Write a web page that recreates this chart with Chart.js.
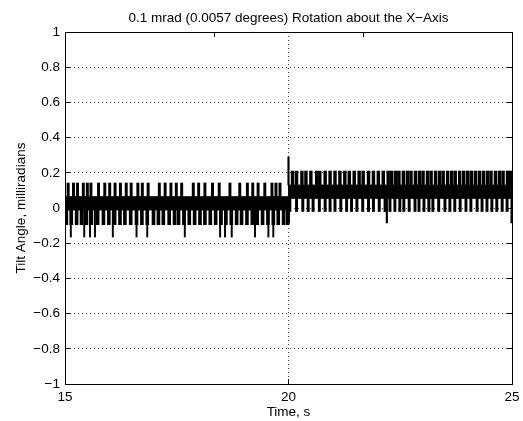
<!DOCTYPE html>
<html>
<head>
<meta charset="utf-8">
<script src="https://cdn.jsdelivr.net/npm/chart.js@4.4.1/dist/chart.umd.min.js"></script>
<style>
  body { margin: 0; background: #fff; }
</style>
</head>
<body>
<canvas id="tiltChart" width="523" height="421"></canvas>
<script>
// levels of the quantised signal, milliradians
const preLevels = [-0.165, -0.095, -0.011, 0.064, 0.142];    // deep dip, dip, band low, band high, spike top
const postLevels = [-0.085, -0.02, 0.055, 0.13, 0.21, 0.29]; // deep dip, dip, band low, band high, spike top, step spike

// edges of the dense (solid) part of the trace
const bandTime = [15, 20, 20, 25];
const bandHigh = [0.064, 0.064, 0.13, 0.13];
const bandLow = [-0.011, -0.011, 0.055, 0.055];

// spike times, s
const preUpTimes = [15.07, 15.19, 15.28, 15.41, 15.50, 15.58, 15.75, 15.89, 16.00, 16.12,
    16.24, 16.37, 16.48, 16.63, 16.73, 16.86, 17.11, 17.24, 17.37, 17.49, 17.61, 17.87,
    17.99, 18.13, 18.30, 18.45, 18.69, 18.91, 19.08, 19.20, 19.32, 19.47, 19.63, 19.72, 19.81];
const preDownTimes = [15.03, 15.14, 15.26, 15.37, 15.48, 15.59, 15.73, 15.86, 15.98, 16.11,
    16.23, 16.34, 16.47, 16.60, 16.72, 16.84, 16.98, 17.09, 17.20, 17.33, 17.45, 17.54,
    17.66, 17.78, 17.90, 18.02, 18.13, 18.25, 18.37, 18.49, 18.60, 18.72, 18.84, 18.95,
    19.07, 19.19, 19.30, 19.42, 19.54, 19.66, 19.77, 19.89, 19.98];
const preDipTimes = [15.13, 15.43, 15.56, 15.67, 16.07, 16.60, 16.84, 17.68, 18.47, 18.58,
    18.73, 19.25, 19.55, 19.66];
const stepTimes = [20.0];
const postUpTimes = [20.09, 20.18, 20.30, 20.39, 20.50, 20.63, 20.70, 20.82, 20.93, 21.04,
    21.15, 21.26, 21.36, 21.47, 21.58, 21.67, 21.79, 21.90, 22.01, 22.12, 22.23, 22.31,
    22.40, 22.47, 22.57, 22.66, 22.74, 22.84, 22.93, 23.01, 23.11, 23.19, 23.29, 23.38,
    23.46, 23.56, 23.65, 23.73, 23.83, 23.92, 24.01, 24.09, 24.18, 24.27, 24.36, 24.45,
    24.53, 24.63, 24.72, 24.80, 24.90, 24.97];
const postDipTimes = [20.03, 20.18, 20.32, 20.44, 20.55, 20.69, 20.82, 20.93, 21.04, 21.17,
    21.30, 21.41, 21.53, 21.66, 21.79, 21.90, 22.03, 22.16, 22.27, 22.38, 22.49, 22.58,
    22.70, 22.83, 22.92, 23.03, 23.14, 23.23, 23.36, 23.50, 23.61, 23.72, 23.84, 23.97,
    24.08, 24.22, 24.33, 24.44, 24.55, 24.66, 24.78, 24.89];
const postDeepTimes = [20.01, 22.20, 24.99];

const xTicks = [15, 20, 25];

Chart.defaults.font.family = '"Liberation Sans", Arial, Helvetica, sans-serif';
Chart.defaults.font.size = 13.5;
Chart.defaults.color = '#000';

function spikes(times, lo, hi) {
    return times.map(t => ({ x: t, y: [lo, hi] }));
}

function spikeSet(times, lo, hi, thickness) {
    return {
        type: 'bar',
        data: spikes(times, lo, hi),
        backgroundColor: '#000',
        borderWidth: 0,
        barThickness: thickness,
        grouped: false,
    };
}

// fixed axis sizes so the box sits where MATLAB put it
function fixSize(w, h) {
    return scale => {
        if (w !== null) scale.width = w;
        if (h !== null) scale.height = h;
        scale.paddingLeft = 0;
        scale.paddingRight = 0;
        scale.paddingTop = 0;
        scale.paddingBottom = 0;
    };
}

let datasets = [];
datasets.push({
    type: 'line',
    data: bandTime.map((t, i) => ({ x: t, y: bandHigh[i] })),
    borderColor: '#000',
    backgroundColor: '#000',
    borderWidth: 1,
    pointRadius: 0,
    fill: '+1',
});
datasets.push({
    type: 'line',
    data: bandTime.map((t, i) => ({ x: t, y: bandLow[i] })),
    borderColor: '#000',
    borderWidth: 1,
    pointRadius: 0,
    fill: false,
});
datasets.push(spikeSet(preUpTimes, preLevels[3], preLevels[4], 2.3));
datasets.push(spikeSet(preDownTimes, preLevels[1], preLevels[2], 3));
datasets.push(spikeSet(preDipTimes, preLevels[0], preLevels[2], 1.3));
datasets.push(spikeSet(stepTimes, postLevels[3], postLevels[5], 1.5));
datasets.push(spikeSet(postUpTimes, postLevels[3], postLevels[4], 2.8));
datasets.push(spikeSet(postDipTimes, postLevels[1], postLevels[2], 2.3));
datasets.push(spikeSet(postDeepTimes, postLevels[0], postLevels[2], 1.5));

// dotted grid, short solid ticks pointing into the box (negative length)
const gridDots = {
    display: true,
    color: 'rgba(0,0,0,0.75)',
    lineWidth: 1,
    drawTicks: true,
    tickLength: -5,
    tickColor: '#000',
    tickWidth: 1,
};
const tickOnly = {
    display: true,
    drawOnChartArea: false,
    drawTicks: true,
    tickLength: -5,
    tickColor: '#000',
    tickWidth: 1,
};

new Chart(document.getElementById('tiltChart'), {
    type: 'bar',
    data: { datasets: datasets },
    options: {
        responsive: false,
        animation: false,
        events: [],
        layout: { padding: 0 },
        plugins: {
            legend: { display: false },
            tooltip: { enabled: false },
            title: { display: false },
        },
        scales: {
            x: {
                type: 'linear',
                position: 'bottom',
                min: 15,
                max: 25,
                offset: false,
                afterBuildTicks: scale => { scale.ticks = xTicks.map(v => ({ value: v })); },
                ticks: { padding: 10, maxRotation: 0 },
                grid: Object.assign({ offset: false }, gridDots),
                border: { display: true, color: '#000', width: 1, dash: [1, 3] },
                title: { display: true, text: 'Time, s', padding: { top: 0, bottom: 1 } },
                afterFit: fixSize(null, 37),
            },
            xTop: {
                // carries the plot title so it is centred over the axes, as in the original
                type: 'linear',
                position: 'top',
                min: 15,
                max: 25,
                afterBuildTicks: scale => { scale.ticks = xTicks.map(v => ({ value: v })); },
                ticks: { display: false },
                grid: tickOnly,
                border: { display: true, color: '#000', width: 1 },
                title: {
                    display: true,
                    text: '0.1 mrad (0.0057 degrees) Rotation about the X\u2212Axis',
                    padding: { top: 10, bottom: 0 },
                },
                afterFit: fixSize(null, 32),
            },
            y: {
                type: 'linear',
                position: 'left',
                min: -1,
                max: 1,
                ticks: {
                    stepSize: 0.2,
                    padding: 10,
                    callback: v => String(Math.round(v * 10) / 10).replace('-', '\u2212'),
                },
                grid: gridDots,
                border: { display: true, color: '#000', width: 1, dash: [1, 3] },
                title: { display: true, text: 'Tilt Angle, milliradians', padding: { top: 13, bottom: 0 } },
                afterFit: fixSize(65, null),
            },
            yRight: {
                type: 'linear',
                position: 'right',
                min: -1,
                max: 1,
                ticks: { display: false, stepSize: 0.2 },
                grid: tickOnly,
                border: { display: true, color: '#000', width: 1 },
                afterFit: fixSize(11, null),
            },
        },
    },
});
</script>
</body>
</html>
